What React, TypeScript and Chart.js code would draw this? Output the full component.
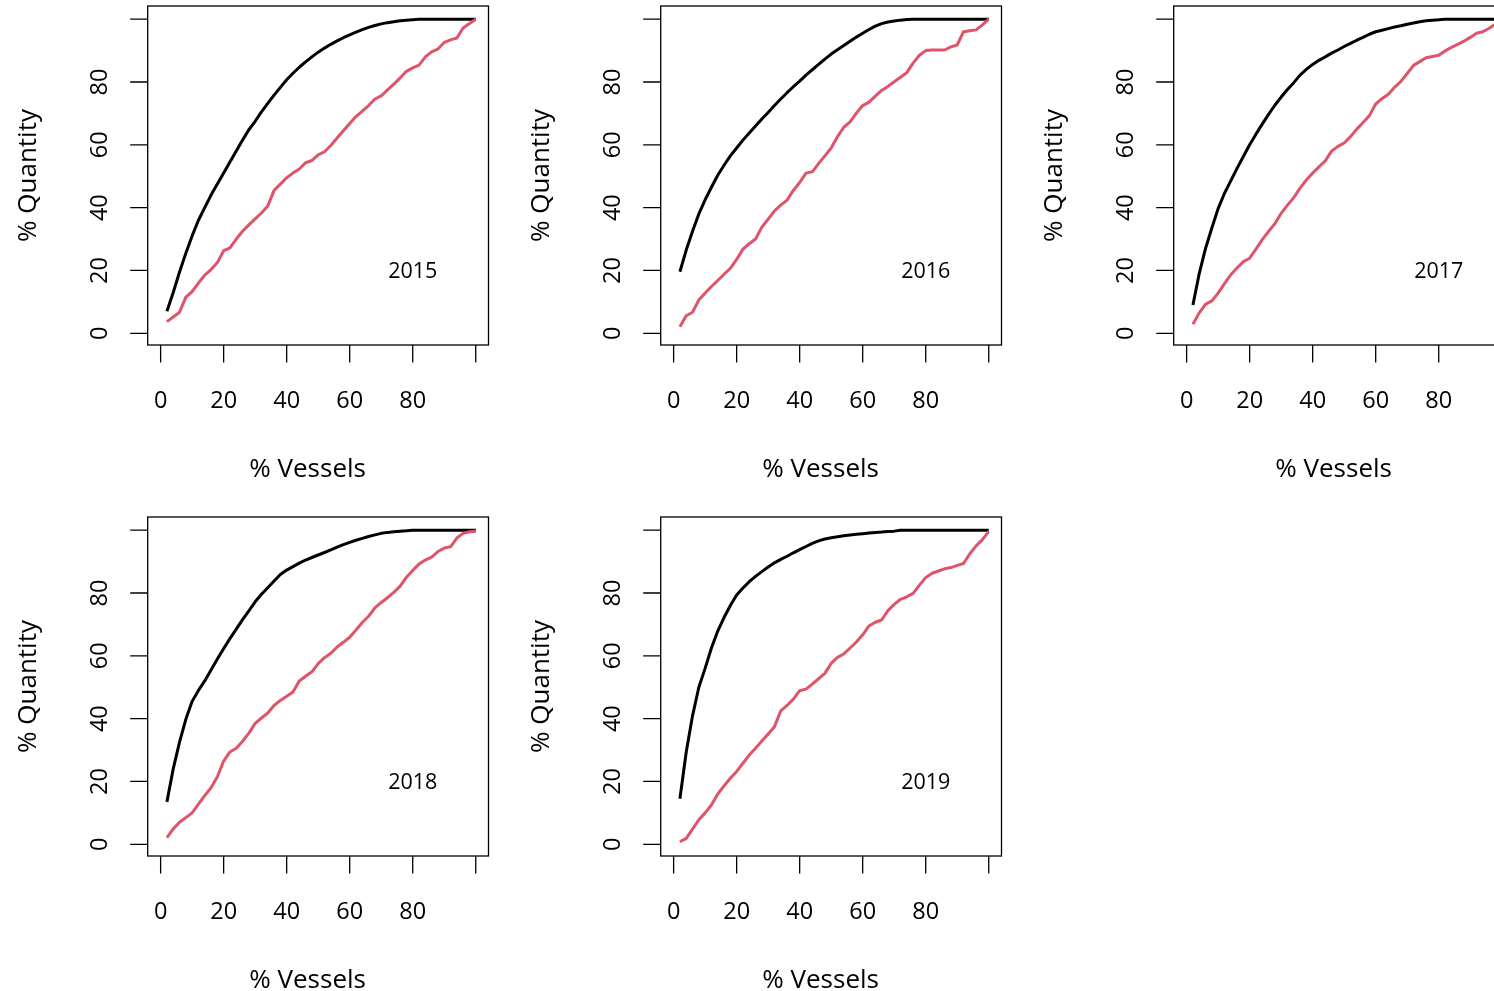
import React, { useEffect, useRef } from "react";
import { Chart, registerables } from "chart.js";

Chart.register(...registerables);

// ---------------- data ----------------
const vessels = [
  2, 4, 6, 8, 10, 12, 14, 16, 18, 20, 22, 24, 26, 28, 30, 32, 34, 36, 38, 40,
  42, 44, 46, 48, 50, 52, 54, 56, 58, 60, 62, 64, 66, 68, 70, 72, 74, 76, 78, 80,
  82, 84, 86, 88, 90, 92, 94, 96, 98, 100,
];

const xTickValues = [0, 20, 40, 60, 80, 100];
const xTickLabels = ["0", "20", "40", "60", "80", ""];
const yTickValues = [0, 20, 40, 60, 80, 100];
const yTickLabels = ["0", "20", "40", "60", "80", ""];

const years = ["2015", "2016", "2017", "2018", "2019"];

const xTitle = "% Vessels";
const yTitle = "% Quantity";

// black curves
const sorted2015 = [
  7, 13, 19.5, 25.5, 31, 36, 40, 44, 47.5, 51, 54.5, 58, 61.5, 64.8, 67.5, 70.5,
  73.2, 75.8, 78.3, 80.7, 82.8, 84.7, 86.4, 88, 89.5, 90.8, 92, 93.1, 94.1, 95,
  95.9, 96.7, 97.4, 98, 98.5, 98.9, 99.2, 99.5, 99.7, 99.85, 99.95, 100, 100, 100,
  100, 100, 100, 100, 100, 100,
];
const sorted2016 = [
  19.6, 26.5, 32.5, 38, 42.5, 46.5, 50.3, 53.5, 56.5, 59, 61.5, 63.8, 66, 68.2,
  70.3, 72.5, 74.6, 76.6, 78.5, 80.3, 82.2, 83.9, 85.6, 87.3, 88.9, 90.3, 91.6, 93,
  94.3, 95.5, 96.7, 97.8, 98.6, 99.1, 99.4, 99.7, 99.9, 100, 100, 100, 100, 100,
  100, 100, 100, 100, 100, 100, 100, 100,
];
const sorted2017 = [
  9, 19, 27, 33.5, 39.7, 44.5, 48.5, 52.5, 56.3, 60, 63.4, 66.6, 69.7, 72.6, 75.2,
  77.6, 79.8, 82.2, 84, 85.6, 86.9, 88, 89.2, 90.2, 91.3, 92.3, 93.3, 94.2, 95.2,
  96, 96.5, 97, 97.5, 97.9, 98.4, 98.8, 99.2, 99.5, 99.7, 99.8, 100, 100, 100, 100,
  100, 100, 100, 100, 100, 100,
];
const sorted2018 = [
  13.5, 24, 32.5, 39.8, 45.5, 49, 52, 55.5, 59, 62.3, 65.5, 68.5, 71.5, 74.3, 77.2,
  79.6, 81.7, 83.8, 85.9, 87.3, 88.4, 89.5, 90.5, 91.3, 92.1, 92.9, 93.7, 94.6,
  95.4, 96.1, 96.8, 97.4, 98, 98.5, 99, 99.3, 99.5, 99.7, 99.8, 100, 100, 100, 100,
  100, 100, 100, 100, 100, 100, 100,
];
const sorted2019 = [
  14.5, 29.4, 40.9, 50, 56, 62.5, 67.9, 72.2, 76, 79.4, 81.6, 83.6, 85.3, 86.8,
  88.3, 89.6, 90.7, 91.7, 92.8, 93.8, 94.8, 95.8, 96.6, 97.2, 97.6, 97.9, 98.2,
  98.5, 98.7, 98.9, 99.1, 99.3, 99.4, 99.6, 99.7, 100, 100, 100, 100, 100, 100, 100,
  100, 100, 100, 100, 100, 100, 100, 100,
];

// red curves
const actual2015 = [
  3.7, 5.2, 6.7, 11.5, 13.3, 16, 18.5, 20.3, 22.5, 26.3, 27.2, 30, 32.5, 34.5, 36.4,
  38.3, 40.5, 45.5, 47.5, 49.5, 51, 52.3, 54.3, 55, 56.8, 57.8, 59.8, 62.2, 64.5,
  66.8, 69, 70.7, 72.5, 74.6, 75.6, 77.5, 79.3, 81.3, 83.4, 84.5, 85.4, 88, 89.6,
  90.5, 92.6, 93.4, 94, 97.2, 98.6, 100,
];
const actual2016 = [
  2.1, 5.6, 6.7, 10.6, 12.8, 14.9, 16.8, 18.8, 20.7, 23.5, 26.8, 28.5, 30, 33.8,
  36.3, 39, 40.8, 42.4, 45.5, 48, 51, 51.4, 54, 56.5, 59, 62.6, 65.6, 67.3, 70.1,
  72.5, 73.6, 75.5, 77.3, 78.6, 80.1, 81.5, 83, 86, 88.5, 90, 90.2, 90.2, 90.2,
  91.2, 91.8, 96, 96.3, 96.6, 98.2, 100,
];
const actual2017 = [
  2.9, 6.5, 9.2, 10.3, 12.8, 15.8, 18.6, 20.8, 22.8, 23.9, 26.8, 29.8, 32.4, 34.9,
  38.2, 40.8, 43.2, 46.2, 48.8, 51, 53, 54.9, 58, 59.5, 60.6, 62.6, 65, 67.1, 69.3,
  73, 74.7, 76.1, 78.3, 80.2, 82.7, 85.3, 86.5, 87.7, 88.1, 88.5, 89.9, 91, 92, 93,
  94.2, 95.5, 96, 97.1, 98.4, 99.5,
];
const actual2018 = [
  2.1, 4.9, 7, 8.5, 10, 12.8, 15.5, 18, 21.5, 26.5, 29.4, 30.6, 32.8, 35.4, 38.5,
  40.2, 41.8, 44.2, 45.8, 47.1, 48.5, 52, 53.5, 54.9, 57.5, 59.4, 60.8, 62.8, 64.3,
  65.9, 68.2, 70.6, 72.6, 75.3, 77, 78.5, 80.2, 82.2, 85, 87.2, 89.2, 90.5, 91.4,
  93.2, 94.3, 94.7, 97.5, 99, 99.5, 99.7,
];
const actual2019 = [
  0.8, 1.9, 4.8, 7.8, 10, 12.5, 16, 18.6, 21, 23.2, 25.8, 28.4, 30.6, 32.9, 35.1,
  37.4, 42.5, 44.2, 46.2, 48.9, 49.4, 51, 52.7, 54.4, 57.6, 59.5, 60.6, 62.5, 64.4,
  66.7, 69.5, 70.7, 71.4, 74.4, 76.4, 78, 78.8, 79.9, 82.5, 84.9, 86.3, 87, 87.7,
  88.1, 88.8, 89.4, 92.5, 95, 97, 99.6,
];

const sortedSeries = [sorted2015, sorted2016, sorted2017, sorted2018, sorted2019];
const actualSeries = [actual2015, actual2016, actual2017, actual2018, actual2019];

// ---------------- layout / style ----------------
const PANEL_W = 513;
const PANEL_H = 511;
const FONT = '"Open Sans", "DejaVu Sans", sans-serif';
const TICK_FONT_SIZE = 23.5;
const TITLE_FONT_SIZE = 26;
const YEAR_FONT_SIZE = 21.5;
const TICK_LEN = 17.5;
const RED = "#DF536B";

const rAxesPlugin = {
  id: "rAxes",
  afterDraw(chart: any) {
    const opts = chart.options.plugins.rAxes || {};
    const { ctx, chartArea: a } = chart;
    const xs = chart.scales.x;
    const ys = chart.scales.y;
    ctx.save();
    ctx.strokeStyle = "#000";
    ctx.fillStyle = "#000";
    ctx.lineWidth = 1.3;
    ctx.strokeRect(a.left, a.top, a.right - a.left, a.bottom - a.top);

    ctx.beginPath();
    xTickValues.forEach((v) => {
      const px = xs.getPixelForValue(v);
      ctx.moveTo(px, a.bottom);
      ctx.lineTo(px, a.bottom + TICK_LEN);
    });
    yTickValues.forEach((v) => {
      const py = ys.getPixelForValue(v);
      ctx.moveTo(a.left, py);
      ctx.lineTo(a.left - TICK_LEN, py);
    });
    ctx.stroke();

    const capT = TICK_FONT_SIZE * 0.714;
    ctx.font = `${TICK_FONT_SIZE}px ${FONT}`;
    ctx.textAlign = "center";
    ctx.textBaseline = "alphabetic";
    xTickLabels.forEach((lab, i) => {
      const px = xs.getPixelForValue(xTickValues[i]);
      ctx.fillText(lab, px, a.bottom + 55 + capT / 2);
    });
    yTickLabels.forEach((lab, i) => {
      const py = ys.getPixelForValue(yTickValues[i]);
      ctx.save();
      ctx.translate(a.left - 49.2 + capT / 2, py);
      ctx.rotate(-Math.PI / 2);
      ctx.fillText(lab, 0, 0);
      ctx.restore();
    });

    ctx.font = `${TITLE_FONT_SIZE}px ${FONT}`;
    const midX = (a.left + a.right) / 2;
    const midY = (a.top + a.bottom) / 2;
    ctx.fillText(xTitle, midX - 10.5, a.bottom + 131.5);
    ctx.save();
    ctx.translate(a.left - 111.5, midY);
    ctx.rotate(-Math.PI / 2);
    ctx.fillText(yTitle, 0, 0);
    ctx.restore();

    if (opts.year) {
      const capY = YEAR_FONT_SIZE * 0.714;
      ctx.font = `${YEAR_FONT_SIZE}px ${FONT}`;
      ctx.fillText(opts.year, xs.getPixelForValue(80), ys.getPixelForValue(20) + capY / 2);
    }
    ctx.restore();
  },
};

function Panel(props: { idx: number; col: number; row: number }) {
  const ref = useRef<HTMLCanvasElement>(null);
  const { idx, col, row } = props;
  useEffect(() => {
    if (!ref.current) return;
    const sorted = sortedSeries[idx];
    const actual = actualSeries[idx];
    const chart = new Chart(ref.current, {
      type: "line",
      data: {
        datasets: [
          {
            label: "Sorted",
            data: vessels.map((v, i) => ({ x: v, y: sorted[i] })),
            borderColor: "#000000",
            borderWidth: 3,
            pointRadius: 0,
            tension: 0,
            borderJoinStyle: "round",
            order: 1,
          },
          {
            label: "Observed",
            data: vessels.map((v, i) => ({ x: v, y: actual[i] })),
            borderColor: RED,
            borderWidth: 3,
            pointRadius: 0,
            tension: 0,
            borderJoinStyle: "round",
            order: 0,
          },
        ],
      },
      options: {
        responsive: false,
        animation: false,
        devicePixelRatio: 1,
        events: [],
        layout: { padding: { left: 147.7, top: 6, right: 24.5, bottom: 166 } },
        scales: {
          x: { type: "linear", min: -4.1, max: 104.05, display: false },
          y: { type: "linear", min: -3.73, max: 104.2, display: false },
        },
        plugins: {
          legend: { display: false },
          tooltip: { enabled: false },
          rAxes: { year: years[idx] },
        } as any,
      },
      plugins: [rAxesPlugin],
    } as any);
    return () => chart.destroy();
  }, [idx]);
  return (
    <canvas
      ref={ref}
      width={PANEL_W}
      height={PANEL_H}
      style={{
        position: "absolute",
        left: col * PANEL_W,
        top: row * PANEL_H,
        width: PANEL_W,
        height: PANEL_H,
      }}
    />
  );
}

export default function App() {
  return (
    <div
      style={{
        position: "absolute",
        left: 0,
        top: 0,
        width: 1494,
        height: 991,
        overflow: "hidden",
        background: "#fff",
      }}
    >
      {years.map((y, i) => (
        <Panel key={y} idx={i} col={i % 3} row={Math.floor(i / 3)} />
      ))}
    </div>
  );
}
